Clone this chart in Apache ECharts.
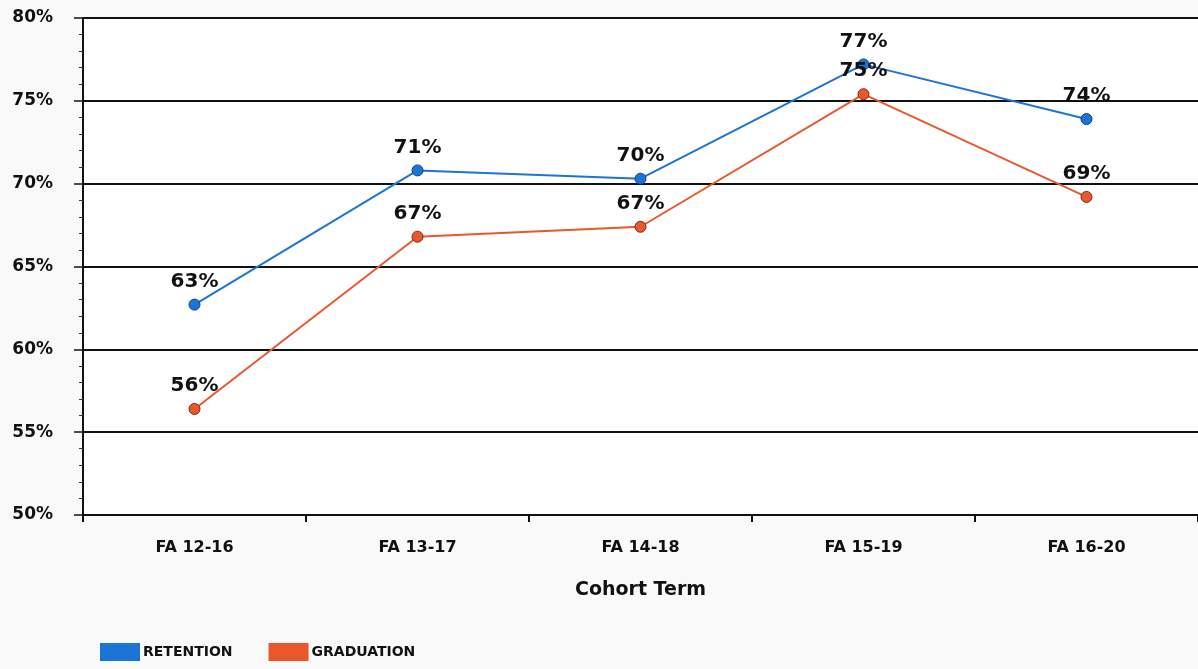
<!DOCTYPE html>
<html>
<head>
<meta charset="utf-8">
<script src="https://cdn.jsdelivr.net/npm/echarts@6/dist/echarts.min.js"></script>
<style>
html,body{margin:0;padding:0;background:#f9f9f9;}
#chart{width:1198px;height:669px;}
</style>
</head>
<body>
<div id="chart"></div>
<script>
const categories = ['FA 12-16', 'FA 13-17', 'FA 14-18', 'FA 15-19', 'FA 16-20'];
const retention = [62.7, 70.8, 70.3, 77.2, 73.9];
const graduation = [56.4, 66.8, 67.4, 75.4, 69.2];
const retentionLabels = ['63%', '71%', '70%', '77%', '74%'];
const graduationLabels = ['56%', '67%', '67%', '75%', '69%'];
const yTicks = [50, 55, 60, 65, 70, 75, 80];

const FONT = 'DejaVu Sans';
const chart = echarts.init(document.getElementById('chart'), null, {renderer: 'canvas'});

function mkSeries(name, values, labels, color, border) {
  return {
    name: name,
    type: 'line',
    data: values,
    symbol: 'circle',
    symbolSize: 11,
    lineStyle: {color: color, width: 2},
    itemStyle: {color: color, borderColor: border, borderWidth: 1},
    label: {
      show: true,
      position: 'top',
      distance: 7,
      formatter: p => labels[p.dataIndex],
      color: '#111',
      fontFamily: FONT,
      fontWeight: 'bold',
      fontSize: 20
    },
    z: 3
  };
}

chart.setOption({
  backgroundColor: '#f9f9f9',
  animation: false,
  grid: {
    left: 83, top: 18, width: 1120, height: 497,
    show: true, backgroundColor: '#ffffff', borderWidth: 0
  },
  xAxis: {
    type: 'category',
    data: categories,
    boundaryGap: true,
    name: 'Cohort Term',
    nameLocation: 'middle',
    nameGap: 66,
    nameTextStyle: {fontFamily: FONT, fontWeight: 'bold', fontSize: 19, color: '#111'},
    axisLine: {lineStyle: {color: '#111', width: 2}},
    axisTick: {show: true, length: 7, lineStyle: {color: '#111', width: 2}},
    axisLabel: {fontFamily: FONT, fontWeight: 'bold', fontSize: 16, color: '#111', margin: 25}
  },
  yAxis: {
    type: 'value',
    min: yTicks[0],
    max: yTicks[yTicks.length - 1],
    interval: 5,
    axisLine: {show: true, lineStyle: {color: '#111', width: 2}},
    axisTick: {show: true, length: 9, lineStyle: {color: '#111', width: 1.5}},
    minorTick: {show: true, splitNumber: 5, length: 4, lineStyle: {color: '#333', width: 1}},
    splitLine: {show: true, lineStyle: {color: '#111', width: 2}},
    axisLabel: {
      formatter: v => v + '%',
      fontFamily: FONT, fontWeight: 'bold', fontSize: 17, color: '#111', margin: 30
    }
  },
  legend: {
    left: 95,
    top: 638,
    itemWidth: 40,
    itemHeight: 18,
    itemGap: 36,
    icon: 'rect',
    itemStyle: {borderWidth: 0},
    data: [{name: 'RETENTION'}, {name: 'GRADUATION'}],
    textStyle: {fontFamily: FONT, fontWeight: 'bold', fontSize: 14, color: '#111', padding: [0, 0, 0, -2]}
  },
  series: [
    mkSeries('RETENTION', retention, retentionLabels, '#1c74d4', '#0d3f86'),
    mkSeries('GRADUATION', graduation, graduationLabels, '#e9582c', '#7a2a10')
  ]
});
</script>
</body>
</html>
